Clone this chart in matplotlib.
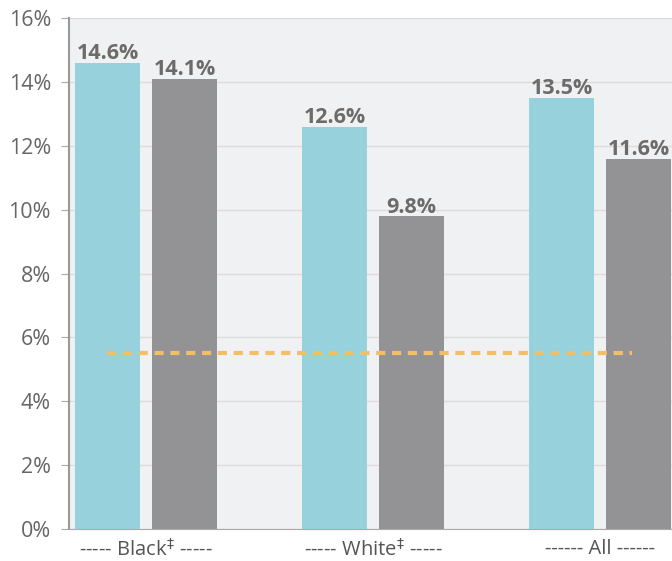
import matplotlib.pyplot as plt
import numpy as np

groups = ["----- Black$^{‡}$ -----", "----- White$^{‡}$ -----", "------ All ------"]
series_a = [14.6, 12.6, 13.5]
series_b = [14.1, 9.8, 11.6]
target = 5.5
yticks = [0, 2, 4, 6, 8, 10, 12, 14, 16]

plt.rcParams['font.family'] = ['Open Sans', 'DejaVu Sans']

fig = plt.figure(figsize=(6.72, 5.61), dpi=100)
ax = fig.add_axes([69 / 672, 32 / 561, 603 / 672, 511 / 561])
ax.set_facecolor('#f0f1f3')

x = np.arange(len(groups))
w = 0.29
off = 0.1696
bars_a = ax.bar(x - off, series_a, w, color='#96d1dc', zorder=3)
bars_b = ax.bar(x + off, series_b, w, color='#939396', zorder=3)

for bars in (bars_a, bars_b):
    for b in bars:
        ax.text(b.get_x() + b.get_width() / 2, b.get_height() - 0.05,
                f"{b.get_height():.1f}%", ha='center', va='bottom',
                fontsize=15.5, fontweight='bold', color='#6d6a6a', zorder=4)

ax.plot([-0.17, 2.14], [target, target], color='#f2c063', lw=3,
        dashes=(2.2, 1.6), zorder=5)

ax.set_xlim(-0.339, 2.317)
ax.set_ylim(0, 16)
ax.set_yticks(yticks)
ax.set_yticklabels([f"{t}%" for t in yticks])
ax.set_xticks(x)
ax.set_xticklabels(groups)
ax.tick_params(axis='y', length=6, color='#aaaaaa', labelsize=15.5,
               labelcolor='#666666', pad=7)
ax.tick_params(axis='x', length=0, labelsize=14.5, labelcolor='#555555', pad=7)
ax.grid(axis='y', color='#dcdcdc', lw=1, zorder=0)
ax.spines['top'].set_visible(False)
ax.spines['right'].set_visible(False)
ax.spines['left'].set_color('#999999')
ax.spines['left'].set_linewidth(1.5)
ax.spines['bottom'].set_color('#aaaaaa')

fig.savefig('out.png', dpi=100)
